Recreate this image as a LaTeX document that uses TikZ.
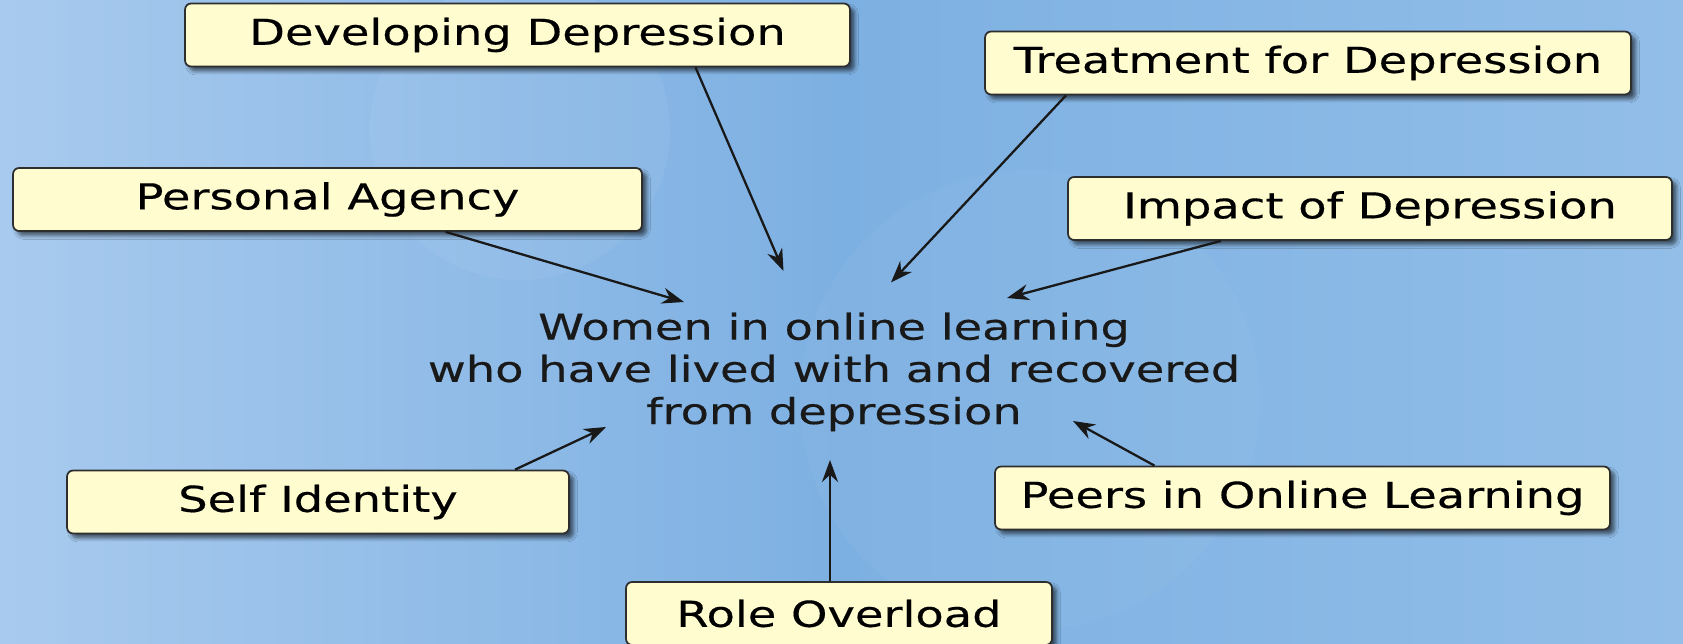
\documentclass[tikz,border=0pt]{standalone}
\usepackage{fontspec}
\setmainfont{DejaVu Sans}[FakeStretch=1.3, FakeBold=0.4]
\usepackage{tikz}
\usetikzlibrary{arrows.meta, positioning, calc, shadows.blur}

\definecolor{bgleft}{HTML}{A8CAEE}
\definecolor{bgmid}{HTML}{7DB0E2}
\definecolor{bgright}{HTML}{92BEE8}
\definecolor{boxfill}{HTML}{FFFCCF}
\definecolor{boxline}{HTML}{2E2E2E}

\begin{document}
\begin{tikzpicture}[
    x=0.02cm, y=-0.02cm,
    every node/.style={font=\fontsize{20.3}{24}\selectfont},
    topic/.style={rectangle, draw=boxline, line width=1pt, rounded corners=0.12cm,
      fill=boxfill, minimum height=1.26cm,
      blur shadow={shadow xshift=0.09cm, shadow yshift=-0.09cm, shadow opacity=60, shadow blur steps=6}},
    hub/.style={align=center, text=black!90},
    link/.style={draw=black!90, line width=1.3pt, -{Stealth[length=0.44cm, width=0.32cm]}}
  ]

  % background
  \useasboundingbox (0,0) rectangle (1683,644);
  \fill[left color=bgleft, right color=bgright, middle color=bgmid] (0,0) rectangle (1683,644);
  \fill[white, opacity=0.05] (520,130) circle (150);
  \fill[white, opacity=0.03] (1030,400) circle (230);

  % centre
  \node[hub] (hub) at (834,372) {Women in online learning\\who have lived with and recovered\\from depression};

  % topics
  \node[topic, minimum width=13.3cm] (develop) at (517.5,35) {Developing Depression};
  \node[topic, minimum width=12.92cm] (treat) at (1308,63) {Treatment for Depression};
  \node[topic, minimum width=12.58cm] (agency) at (327.5,199.5) {Personal Agency};
  \node[topic, minimum width=12.08cm] (impact) at (1370,208.5) {Impact of Depression};
  \node[topic, minimum width=10.04cm] (identity) at (318,502) {Self Identity};
  \node[topic, minimum width=12.3cm] (peers) at (1302.5,498) {Peers in Online Learning};
  \node[topic, minimum width=8.52cm] (overload) at (839,613.5) {Role Overload};

  % arrow heads around the centre
  \coordinate (toDevelop) at ($(hub)+(-50.5,-101)$);
  \coordinate (toTreat) at ($(hub)+(57,-89.5)$);
  \coordinate (toAgency) at ($(hub)+(-150,-70)$);
  \coordinate (toImpact) at ($(hub)+(173,-74)$);
  \coordinate (toIdentity) at ($(hub)+(-228,55)$);
  \coordinate (toPeers) at ($(hub)+(239,49)$);
  \coordinate (toOverload) at ($(hub)+(-4,88)$);

  \draw[link] ($(develop.south)+(178,0)$) -- (toDevelop);
  \draw[link] ($(treat.south)+(-242,0)$) -- (toTreat);
  \draw[link] ($(agency.south)+(118,0)$) -- (toAgency);
  \draw[link] ($(impact.south)+(-149,0)$) -- (toImpact);
  \draw[link] ($(identity.north)+(197,0)$) -- (toIdentity);
  \draw[link] ($(peers.north)+(-148,0)$) -- (toPeers);
  \draw[link] ($(overload.north)+(-9,0)$) -- (toOverload);
\end{tikzpicture}
\end{document}
